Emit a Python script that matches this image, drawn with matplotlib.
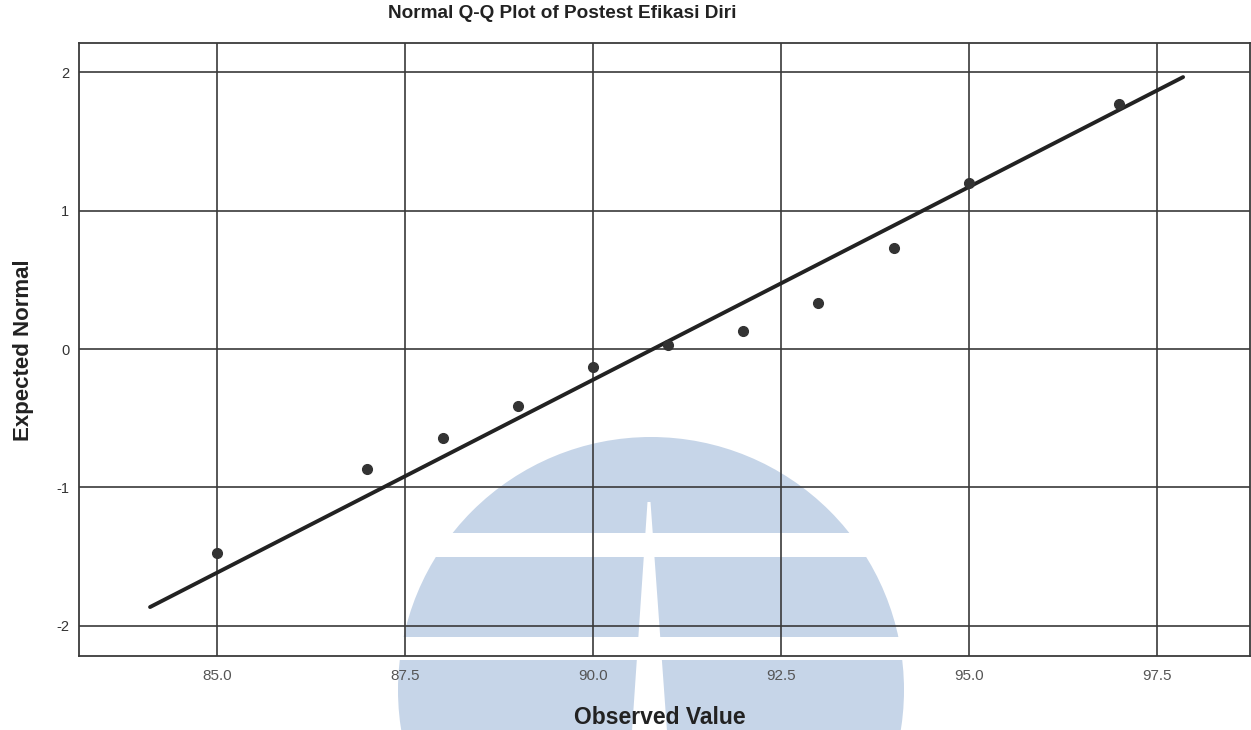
import matplotlib
matplotlib.use("Agg")
import matplotlib.pyplot as plt
from matplotlib.patches import Ellipse, Rectangle, Polygon
from matplotlib.ticker import FormatStrFormatter
import numpy as np

# Observed scores and their expected normal quantiles
observed = [85, 87, 88, 89, 90, 91, 92, 93, 94, 95, 97]
expected = [-1.47, -0.87, -0.64, -0.41, -0.13, 0.03, 0.13, 0.33, 0.73, 1.20, 1.77]

# Reference normal line (mean, sd) and its drawn extent on the x axis
line_mean = 90.80
line_sd = 3.59
line_x = [84.11, 97.85]

x_ticks = [85.0, 87.5, 90.0, 92.5, 95.0, 97.5]
y_ticks = [-2, -1, 0, 1, 2]

plt.rcParams["font.family"] = ["Liberation Sans", "DejaVu Sans"]
plt.rcParams["axes.unicode_minus"] = False

W, H = 1251, 730
fig = plt.figure(figsize=(W / 100, H / 100), dpi=100)
fig.patch.set_facecolor("white")


def fx(px):
    return px / W


def fy(py):
    return 1 - py / H


# Light blue emblem in the background of the lower half
blue = "#c6d5e8"
cx, cy, r = 651, 690, 253
fig.patches.append(Ellipse((fx(cx), fy(cy)), 2 * r / W, 2 * r / H,
                           transform=fig.transFigure, facecolor=blue,
                           edgecolor="none", zorder=-3))
for y0, y1 in [(533, 557), (637, 660)]:
    fig.patches.append(Rectangle((fx(cx - r - 5), fy(y1)), (2 * r + 10) / W,
                                 (y1 - y0) / H, transform=fig.transFigure,
                                 facecolor="white", edgecolor="none", zorder=-2))
wedge = [(649 - 1.5, 502), (649 + 1.5, 502), (667, 731), (632, 731)]
fig.patches.append(Polygon([(fx(a), fy(b)) for a, b in wedge], closed=True,
                           transform=fig.transFigure, facecolor="white",
                           edgecolor="none", zorder=-2))

ax = fig.add_axes([fx(79), fy(656), (1250 - 79) / W, (656 - 43) / H])
ax.patch.set_alpha(0)

ax.set_xlim(83.165, 98.74)
ax.set_ylim(-2.217, 2.21)

ax.set_xticks(x_ticks)
ax.set_yticks(y_ticks)
ax.xaxis.set_major_formatter(FormatStrFormatter("%.1f"))
ax.tick_params(axis="both", length=0)
ax.tick_params(axis="x", pad=9, labelsize=11, labelcolor="#555555")
ax.tick_params(axis="y", pad=7, labelsize=10.5, labelcolor="#333333")

ax.grid(True, color="#3a3a3a", linewidth=1.2)
ax.set_axisbelow(True)
for s in ax.spines.values():
    s.set_color("#3a3a3a")
    s.set_linewidth(1.3)

lx = np.array(line_x)
ly = (lx - line_mean) / line_sd
ax.plot(lx, ly, color="#222222", linewidth=2.8, solid_capstyle="round", zorder=3)
ax.plot(observed, expected, linestyle="none", marker="o", markersize=7,
        color="#333333", zorder=4)

fig.text(fx(562), fy(14), "Normal Q-Q Plot of Postest Efikasi Diri",
         ha="center", va="center", fontsize=13.7, fontweight="bold", color="#222222")
fig.text(fx(24), fy(350), "Expected Normal", rotation=90, ha="center",
         va="center", fontsize=16, fontweight="bold", color="#222222")
fig.text(fx(660), fy(717), "Observed Value", ha="center", va="center",
         fontsize=16.5, fontweight="bold", color="#222222")

fig.savefig("out.png", dpi=100)
